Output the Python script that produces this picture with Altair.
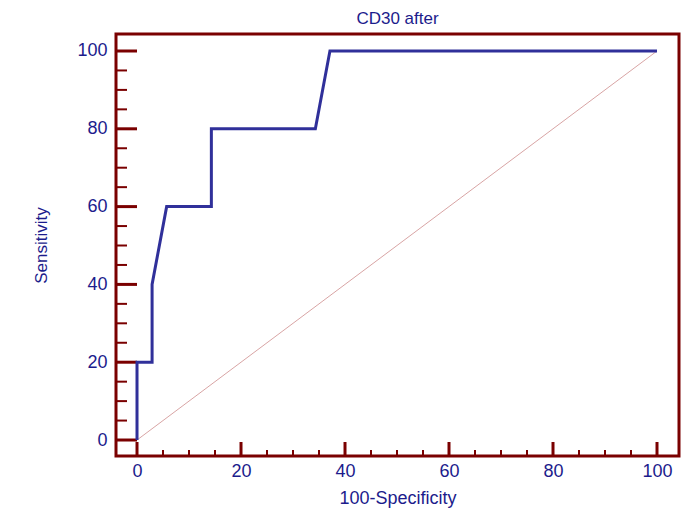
import altair as alt
import pandas as pd

# ROC curve points (100-Specificity, Sensitivity)
fpr = [0, 0, 2.9, 2.9, 5.7, 14.3, 14.3, 34.3, 37.1, 100]
tpr = [0, 20, 20, 40, 60, 60, 80, 80, 100, 100]
diag_x = [0, 100]
diag_y = [0, 100]
major_ticks = [0, 20, 40, 60, 80, 100]
minor_ticks = [v for v in range(0, 101, 5) if v % 20 != 0]

FRAME = "#7a0000"
NAVY = "#1c1c8c"
CURVE = "#30309a"
FONT = "Liberation Sans"

xdom = [-4.04, 104.23]
ydom = [-4.11, 104.37]

roc = pd.DataFrame({"x": fpr, "y": tpr, "o": list(range(len(fpr)))})
diag = pd.DataFrame({"x": diag_x, "y": diag_y})
maj = pd.DataFrame({"v": major_ticks})
mino = pd.DataFrame({"v": minor_ticks})

xs = alt.Scale(domain=xdom, nice=False, zero=False)
ys = alt.Scale(domain=ydom, nice=False, zero=False)

base_x_axis = alt.Axis(values=major_ticks, title="100-Specificity", grid=False, domain=False,
                       ticks=False, labelColor=NAVY, labelFont=FONT, labelFontSize=18,
                       labelPadding=6, titleColor=NAVY, titleFont=FONT, titleFontSize=18,
                       titleFontWeight="normal", titlePadding=9)
base_y_axis = alt.Axis(values=major_ticks, title="Sensitivity", grid=False, domain=False,
                       ticks=False, labelColor=NAVY, labelFont=FONT, labelFontSize=18,
                       labelPadding=9, titleColor=NAVY, titleFont=FONT,
                       titleFontSize=17, titleFontWeight="normal", titlePadding=26)

diag_layer = alt.Chart(diag).mark_line(color="#d49a9a", strokeWidth=0.9).encode(
    x=alt.X("x:Q", scale=xs, axis=base_x_axis),
    y=alt.Y("y:Q", scale=ys, axis=base_y_axis),
)

# inward ticks on y (left spine)
y_major = alt.Chart(maj).mark_rule(color=FRAME, strokeWidth=3).encode(
    y=alt.Y("v:Q", scale=ys), x=alt.value(0), x2=alt.value(21))
y_minor = alt.Chart(mino).mark_rule(color=FRAME, strokeWidth=2).encode(
    y=alt.Y("v:Q", scale=ys), x=alt.value(0), x2=alt.value(11))
# inward ticks on x (bottom spine)
x_major = alt.Chart(maj).mark_rule(color=FRAME, strokeWidth=3).encode(
    x=alt.X("v:Q", scale=xs), y=alt.value(422), y2=alt.value(408))
x_minor = alt.Chart(mino).mark_rule(color=FRAME, strokeWidth=2).encode(
    x=alt.X("v:Q", scale=xs), y=alt.value(422), y2=alt.value(416))

curve = alt.Chart(roc).mark_line(color=CURVE, strokeWidth=3, strokeJoin="miter").encode(
    x=alt.X("x:Q", scale=xs), y=alt.Y("y:Q", scale=ys), order="o:Q")

chart = alt.layer(diag_layer, y_major, y_minor, x_major, x_minor, curve).properties(
    width=563, height=422,
    title=alt.TitleParams("CD30 after", color=NAVY, font=FONT, fontSize=17,
                          fontWeight="normal", offset=6, anchor="middle"),
    autosize=alt.AutoSizeParams(type="none"),
    padding={"left": 108, "top": 26, "right": 9, "bottom": 54},
).configure_view(stroke=FRAME, strokeWidth=3)

chart.save("out.html", embed_options={"renderer": "svg", "actions": False})
